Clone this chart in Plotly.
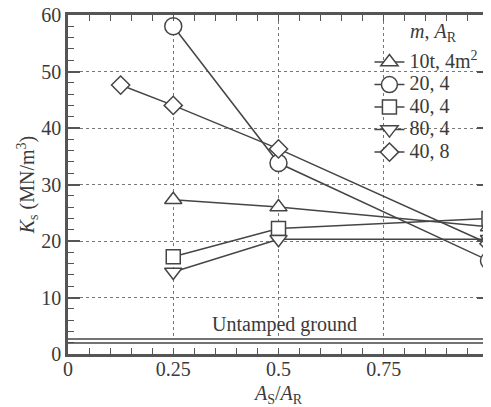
import plotly.graph_objects as go

# ---- data ----
series_names = ["10t, 4m<sup>2</sup>", "20, 4", "40, 4", "80, 4", "40, 8"]
x_10t_4 = [0.25, 0.5, 1.0]
y_10t_4 = [27.3, 26.0, 22.5]
x_20_4 = [0.25, 0.5, 1.0]
y_20_4 = [58.0, 33.8, 16.5]
x_40_4 = [0.25, 0.5, 1.0]
y_40_4 = [17.2, 22.2, 24.0]
x_80_4 = [0.25, 0.5, 1.0]
y_80_4 = [14.5, 20.3, 20.3]
x_40_8 = [0.125, 0.25, 0.5, 1.0]
y_40_8 = [47.6, 44.0, 36.3, 19.5]
untamped_upper = 2.65
untamped_lower = 1.95
x_ticks = [0, 0.25, 0.5, 0.75, 1]
x_tick_labels = ["0", "0.25", "0.5", "0.75", "1"]
y_ticks = [0, 10, 20, 30, 40, 50, 60]

FONT = "Liberation Serif, Times New Roman, serif"
INK = "#454545"
TXT = "#3a3a3a"

symbols = ["triangle-up", "circle", "square", "triangle-down", "diamond"]
sizes = [15, 17, 14, 15, 14]
xs = [x_10t_4, x_20_4, x_40_4, x_80_4, x_40_8]
ys = [y_10t_4, y_20_4, y_40_4, y_80_4, y_40_8]

def big(t):
    return '<span style="font-size:20px">' + t + '</span>'

fig = go.Figure()
for name, sx, sy, sym, sz in zip(series_names, xs, ys, symbols, sizes):
    fig.add_trace(go.Scatter(
        x=sx, y=sy, name=big(name), mode="lines+markers",
        line=dict(color=INK, width=1.5),
        marker=dict(symbol=sym, size=sz, color="white",
                    line=dict(color=INK, width=1.5)),
    ))

# white box behind the legend (hides the grid there, as in the reference)
fig.add_shape(type="rect", xref="paper", yref="paper", x0=0.651, x1=0.99, y0=0.545, y1=0.995,
              fillcolor="white", line=dict(width=0), layer="between")
# untamped ground band
fig.add_shape(type="rect", xref="x", yref="y", x0=0, x1=1, y0=0, y1=untamped_upper,
              fillcolor="white", line=dict(width=0), layer="between")
for yv in (untamped_upper, untamped_lower):
    fig.add_shape(type="line", xref="x", yref="y", x0=0, x1=1, y0=yv, y1=yv,
                  line=dict(color=INK, width=1.5), layer="above")
fig.add_annotation(x=0.515, y=5.3, xref="x", yref="y", text="Untamped ground",
                   showarrow=False, font=dict(family=FONT, size=20, color=TXT))

# legend heading
fig.add_annotation(x=0.807, y=0.947, xref="paper", yref="paper", xanchor="left",
                   yanchor="middle", text="<i>m</i>, <i>A</i><sub>R</sub>",
                   showarrow=False,
                   font=dict(family=FONT, size=20, color=TXT))

# the page body adds an 8px offset; the figure is sized so that it fills the window
fig.update_layout(
    width=483, height=399,
    margin=dict(l=60, r=2, t=7, b=53, autoexpand=False),
    paper_bgcolor="white", plot_bgcolor="white",
    font=dict(family=FONT, size=20, color=TXT),
    showlegend=True,
    legend=dict(
        x=0.716, y=0.909, xanchor="left", yanchor="top",
        bgcolor="rgba(255,255,255,0)", borderwidth=0,
        font=dict(family=FONT, size=15, color=TXT),
        tracegroupgap=0, itemwidth=30,
    ),
    xaxis=dict(
        range=[0, 1], tickvals=x_ticks, ticktext=x_tick_labels,
        automargin=False, ticklabeloverflow="allow",
        showline=True, linecolor="#555", linewidth=2.5, mirror="allticks",
        ticks="inside", ticklen=6, tickcolor="#555", tickwidth=1.2,
        minor=dict(dtick=0.05, ticks="inside", ticklen=6, tickcolor="#555", tickwidth=1.2, showgrid=False),
        showgrid=True, gridcolor="#777", gridwidth=1, griddash="dot",
        zeroline=False, ticklabelstandoff=-5,
        tickfont=dict(family=FONT, size=20, color=TXT),
        title=dict(text="<i>A</i><sub>S</sub>/<i>A</i><sub>R</sub>", standoff=12,
                   font=dict(family=FONT, size=20, color=TXT)),
    ),
    yaxis=dict(
        range=[0, 60], tickvals=y_ticks,
        automargin=False, ticklabeloverflow="allow",
        showline=True, linecolor="#555", linewidth=2.5, mirror="allticks",
        ticks="inside", ticklen=12, tickcolor="#555", tickwidth=1.5,
        minor=dict(dtick=2, ticks="inside", ticklen=6, tickcolor="#555", tickwidth=1.2, showgrid=False),
        showgrid=True, gridcolor="#777", gridwidth=1, griddash="dot",
        zeroline=False,
        tickfont=dict(family=FONT, size=20, color=TXT),
        title=dict(text="<i>K</i><sub>s</sub> (MN/m<sup>3</sup>)", standoff=0,
                   font=dict(family=FONT, size=20, color=TXT)),
    ),
)

fig.write_html("out.html")
